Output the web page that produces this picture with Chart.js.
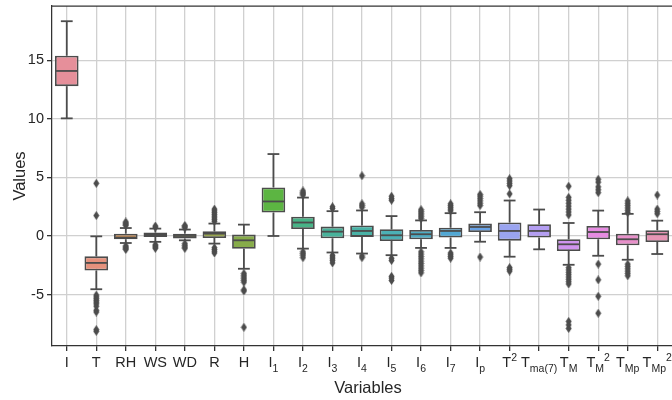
<!DOCTYPE html>
<html>
<head>
<meta charset="utf-8">
<script src="https://cdn.jsdelivr.net/npm/chart.js@4.4.0/dist/chart.umd.min.js"></script>
<style>
  html, body { margin: 0; padding: 0; background: #fff; }
</style>
</head>
<body>
<canvas id="chart" width="672" height="400"></canvas>
<script>
// categories (x axis) and how each label is typeset: [text, 'sub' | 'sup' | '']
const categories = ['I', 'T', 'RH', 'WS', 'WD', 'R', 'H', 'I1', 'I2', 'I3', 'I4', 'I5', 'I6', 'I7',
    'Ip', 'T2', 'Tma7', 'TM', 'TM2', 'TMp', 'TMp2'];
const labelParts = [
    [['I', '']], [['T', '']], [['RH', '']], [['WS', '']], [['WD', '']], [['R', '']], [['H', '']],
    [['I', ''], ['1', 'sub']], [['I', ''], ['2', 'sub']], [['I', ''], ['3', 'sub']],
    [['I', ''], ['4', 'sub']], [['I', ''], ['5', 'sub']], [['I', ''], ['6', 'sub']],
    [['I', ''], ['7', 'sub']], [['I', ''], ['p', 'sub']], [['T', ''], ['2', 'sup']],
    [['T', ''], ['ma(7)', 'sub']], [['T', ''], ['M', 'sub']], [['T', ''], ['M', 'sub'], ['2', 'sup']],
    [['T', ''], ['Mp', 'sub']], [['T', ''], ['Mp', 'sub'], ['2', 'sup']]
];

// box statistics
const whiskerLow = [10.05, -4.55, -0.6, -0.5, -0.37, -0.65, -2.8, 0.0, -1.08, -1.41, -1.5, -1.64, -1.02, -1.02,
    -0.49, -1.77, -1.14, -2.46, -1.69, -2.03, -1.54];
const q1 = [12.8, -2.95, -0.28, -0.08, -0.22, -0.17, -1.1, 2.0, 0.6, -0.2, -0.08, -0.43, -0.28, -0.14,
    0.34, -0.4, -0.14, -1.28, -0.28, -0.8, -0.51];
const median = [14.1, -2.3, -0.14, 0.12, 0.0, 0.2, -0.37, 2.95, 1.15, 0.37, 0.43, 0.06, 0.15, 0.43,
    0.77, 0.43, 0.43, -0.71, 0.34, -0.28, 0.15];
const q3 = [15.4, -1.74, 0.2, 0.29, 0.2, 0.4, 0.12, 4.15, 1.65, 0.8, 0.9, 0.57, 0.51, 0.71,
    1.06, 1.15, 1.0, -0.28, 0.86, 0.2, 0.49];
const whiskerHigh = [18.35, -0.03, 0.68, 0.63, 0.55, 1.06, 0.97, 7.0, 3.28, 2.12, 2.18, 1.7, 1.33, 1.95,
    2.03, 3.03, 2.26, 1.11, 2.17, 1.89, 1.31];
const outliers = [
    [],
    [4.5, 1.75, -5.05, -5.2, -5.35, -5.5, -5.65, -5.8, -6.0, -6.35, -6.5, -8.0, -8.15],
    [0.9, 1.0, 1.1, 1.2, -0.85, -0.95, -1.05, -1.15],
    [0.75, 0.85, -0.75, -0.85, -0.95, -1.05],
    [0.7, 0.8, 0.9, -0.65, -0.8, -0.95, -1.05],
    [1.25, 1.4, 1.55, 1.7, 1.85, 2.0, 2.15, 2.3, -1.0, -1.15, -1.3, -1.45],
    [-3.2, -3.35, -3.5, -3.65, -3.8, -3.95, -4.6, -4.7, -7.8],
    [],
    [3.5, 3.6, 3.7, 3.85, -1.35, -1.5, -1.65, -1.85],
    [2.35, 2.5, -1.65, -1.8, -1.95, -2.1, -2.3],
    [5.15, 2.45, 2.6, 2.75, -1.7, -1.85],
    [3.05, 3.2, 3.4, -1.9, -2.1, -3.45, -3.6, -3.8],
    [1.5, 1.65, 1.8, 1.95, 2.1, 2.25, -1.35, -1.55, -1.75, -1.95, -2.15, -2.35, -2.55, -2.75, -2.95, -3.15],
    [2.15, 2.3, 2.45, 2.6, 2.75, -1.45, -1.6, -1.75, -1.9],
    [2.6, 2.8, 3.0, 3.2, 3.4, 3.55, -1.8],
    [4.3, 4.5, 4.7, 4.9, 3.6, -2.7, -2.85, -3.0],
    [],
    [4.25, 3.3, 3.05, 2.8, 2.55, 2.3, 2.05, 1.8, -2.7, -2.9, -3.1, -3.3, -3.5, -3.7, -3.9, -4.1, -7.3, -7.6, -7.9],
    [4.85, 4.6, 4.2, 3.95, 3.7, -2.4, -3.75, -5.15, -6.6],
    [3.0, 2.8, 2.6, 2.4, 2.2, 2.0, -2.4, -2.6, -2.8, -3.0, -3.2, -3.4],
    [3.5, 2.3, 2.1, 1.9]
];
const yTicks = [-5, 0, 5, 10, 15];
const yMin = -9.4, yMax = 19.65;

const boxColors = ['#e68f9a', '#e6917c', '#c98e55', '#b79a52', '#a8a04f', '#98a54f', '#87ac4a', '#5cb542',
    '#47b487', '#48b39b', '#4ab2a6', '#4cb0b5', '#4eacc3', '#52a8d4', '#68a2e6', '#9aa4f0', '#b49ef2',
    '#d094ee', '#e68be1', '#e890ca', '#e795b5'];
const lineGray = '#4c4c4c';
const textColor = '#262626';
const fontFamily = '"Liberation Sans", Arial, sans-serif';

// thin diamond like matplotlib's 'd' marker
function diamondMarker() {
    const c = document.createElement('canvas');
    c.width = 7; c.height = 9;
    const g = c.getContext('2d');
    g.fillStyle = lineGray;
    g.beginPath();
    g.moveTo(3.5, 0); g.lineTo(6.5, 4.5); g.lineTo(3.5, 9); g.lineTo(0.5, 4.5);
    g.closePath();
    g.fill();
    return c;
}

const flierPoints = [];
outliers.forEach((vals, i) => vals.forEach(v => flierPoints.push({ x: categories[i], y: v })));

// whiskers, caps, medians, top spine and the typeset labels
const boxPlugin = {
    id: 'boxParts',
    afterDatasetsDraw(chart) {
        const ctx = chart.ctx, xs = chart.scales.x, ys = chart.scales.y;
        const half = xs.width / categories.length * 0.8 / 2;
        const seg = (x1, y1, x2, y2) => { ctx.beginPath(); ctx.moveTo(x1, y1); ctx.lineTo(x2, y2); ctx.stroke(); };
        ctx.save();
        ctx.strokeStyle = lineGray;
        ctx.lineWidth = 1.8;
        categories.forEach((c, i) => {
            const x = xs.getPixelForValue(i);
            const yLo = ys.getPixelForValue(whiskerLow[i]), yHi = ys.getPixelForValue(whiskerHigh[i]);
            seg(x, ys.getPixelForValue(q3[i]), x, yHi);
            seg(x, ys.getPixelForValue(q1[i]), x, yLo);
            seg(x - half / 2, yHi, x + half / 2, yHi);
            seg(x - half / 2, yLo, x + half / 2, yLo);
            const ym = ys.getPixelForValue(median[i]);
            seg(x - half + 1, ym, x + half - 1, ym);
        });
        ctx.restore();
    },
    afterDraw(chart) {
        const ctx = chart.ctx, xs = chart.scales.x, area = chart.chartArea;
        ctx.save();
        // top spine
        ctx.strokeStyle = '#333';
        ctx.lineWidth = 1.25;
        ctx.beginPath(); ctx.moveTo(area.left, area.top); ctx.lineTo(area.right, area.top); ctx.stroke();

        ctx.fillStyle = textColor;
        ctx.textBaseline = 'alphabetic';
        ctx.textAlign = 'left';
        const mainFont = '14.5px ' + fontFamily, smallFont = '10.5px ' + fontFamily;
        const base = area.bottom + 21;
        labelParts.forEach((parts, i) => {
            let total = 0;
            parts.forEach(p => { ctx.font = p[1] ? smallFont : mainFont; total += ctx.measureText(p[0]).width; });
            let x = xs.getPixelForValue(i) - total / 2;
            parts.forEach(p => {
                ctx.font = p[1] ? smallFont : mainFont;
                const dy = p[1] === 'sub' ? 5 : (p[1] === 'sup' ? -6 : 0);
                ctx.fillText(p[0], x, base + dy);
                x += ctx.measureText(p[0]).width;
            });
        });

        ctx.font = '16.5px ' + fontFamily;
        ctx.textAlign = 'center';
        ctx.fillText('Variables', (area.left + area.right) / 2 + 6, 393);
        ctx.translate(25, (area.top + area.bottom) / 2);
        ctx.rotate(-Math.PI / 2);
        ctx.fillText('Values', 0, 0);
        ctx.restore();
    }
};

new Chart(document.getElementById('chart'), {
    type: 'bar',
    data: {
        labels: categories,
        datasets: [{
            type: 'bar',
            data: categories.map((c, i) => [q1[i], q3[i]]),
            backgroundColor: boxColors,
            borderColor: lineGray,
            borderWidth: 1.8,
            borderSkipped: false,
            categoryPercentage: 0.8,
            barPercentage: 1.0,
            order: 2
        }, {
            type: 'line',
            data: flierPoints,
            showLine: false,
            pointStyle: diamondMarker(),
            pointRadius: 4,
            order: 1
        }]
    },
    options: {
        responsive: false,
        animation: false,
        layout: { autoPadding: false, padding: { top: 6, left: 0, right: 0, bottom: 0 } },
        plugins: { legend: { display: false }, tooltip: { enabled: false } },
        scales: {
            x: {
                type: 'category',
                offset: true,
                grid: { offset: false, color: '#d0d0d0', lineWidth: 1.3, tickLength: 5, tickColor: '#333' },
                border: { display: true, color: '#333', width: 1.25 },
                ticks: { display: false },
                afterFit(s) { s.height = 54; s.paddingLeft = 0; s.paddingRight = 0; }
            },
            y: {
                min: yMin,
                max: yMax,
                grid: { color: '#d0d0d0', lineWidth: 1.3, tickLength: 5, tickColor: '#333' },
                border: { display: true, color: '#333', width: 1.25 },
                ticks: { color: textColor, padding: 3, font: { family: fontFamily, size: 14.5 } },
                afterBuildTicks(s) { s.ticks = yTicks.map(v => ({ value: v })); },
                afterFit(s) { s.width = 52; s.paddingTop = 0; s.paddingBottom = 0; }
            }
        }
    },
    plugins: [boxPlugin]
});
</script>
</body>
</html>
